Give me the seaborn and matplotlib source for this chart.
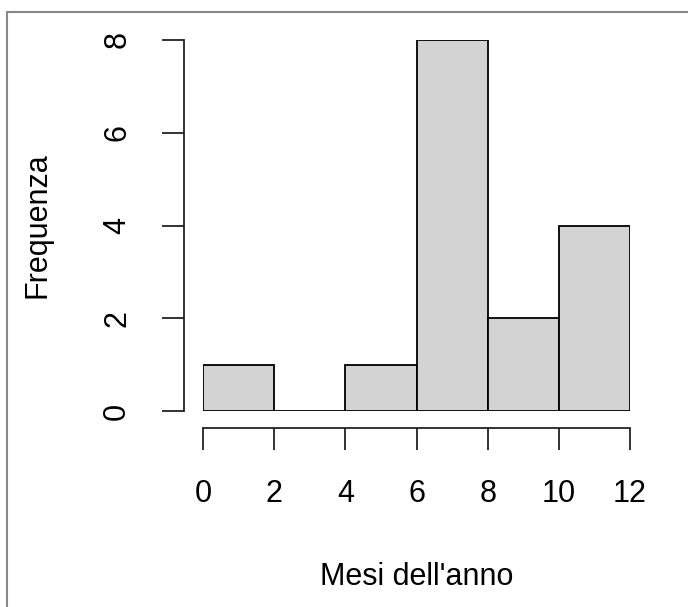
import numpy as np
import pandas as pd
import matplotlib
matplotlib.use("Agg")
import matplotlib.pyplot as plt
import seaborn as sns
from matplotlib.patches import Rectangle

# histogram of months: bin edges and counts per bin
bin_edges = [0, 2, 4, 6, 8, 10, 12]
counts = [1, 0, 1, 8, 2, 4]
x_ticks = [0, 2, 4, 6, 8, 10, 12]
y_ticks = [0, 2, 4, 6, 8]

mids = [(a + b) / 2 for a, b in zip(bin_edges[:-1], bin_edges[1:])]
df = pd.DataFrame({"mese": mids, "n": counts})

sns.set_style("white")
plt.rcParams['font.family'] = ['Liberation Sans', 'DejaVu Sans']
plt.rcParams['text.color'] = 'black'
plt.rcParams['axes.labelcolor'] = 'black'
plt.rcParams['xtick.color'] = 'black'
plt.rcParams['ytick.color'] = 'black'

fig = plt.figure(figsize=(6.88, 6.07), dpi=100)
ax = fig.add_axes([203 / 688, 196 / 607, 427 / 688, 371 / 607])

sns.histplot(data=df, x="mese", weights="n", bins=bin_edges, ax=ax,
             color="#d3d3d3", edgecolor="black", linewidth=1.3, alpha=1)

ax.set_xlim(0, 12)
ax.set_ylim(0, 8)
ax.set_xticks(x_ticks)
ax.set_yticks(y_ticks)

for s in ["top", "right"]:
    ax.spines[s].set_visible(False)
ax.spines["left"].set_position(("outward", 14))
ax.spines["bottom"].set_position(("outward", 12))
ax.spines["left"].set_bounds(0, 8)
ax.spines["bottom"].set_bounds(0, 12)
for s in ["left", "bottom"]:
    ax.spines[s].set_linewidth(1.3)
    ax.spines[s].set_color("#222222")

ax.tick_params(axis="both", length=16, width=1.3, color="#222222",
               labelsize=22, labelcolor="black", direction="out",
               bottom=True, left=True)
ax.tick_params(axis="x", pad=21)
ax.tick_params(axis="y", pad=21, labelrotation=90)
for lab in ax.get_yticklabels():
    lab.set_va("center")

ax.set_xlabel("Mesi dell'anno", fontsize=22, labelpad=38)
ax.set_ylabel("Frequenza", fontsize=22, labelpad=36)

# outer frame like the original screenshot
fig.patches.append(Rectangle((7 / 688, -0.1), 1.1, 1.1 - 12 / 607,
                             transform=fig.transFigure, fill=False,
                             edgecolor="#888888", linewidth=1.5))

fig.savefig("out.png", dpi=100)
